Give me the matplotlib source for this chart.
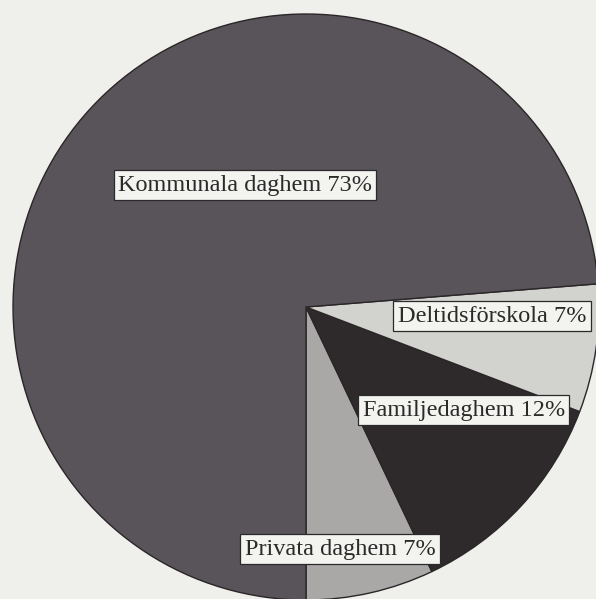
import matplotlib.pyplot as plt

categories = ["Privata daghem", "Familjedaghem", "Deltidsförskola", "Kommunala daghem"]
values = [7, 12, 7, 73]
colors = ["#a9a8a7", "#2e2a2c", "#d2d2cf", "#59545a"]
label_pos = {
    "Kommunala daghem": (-0.208, 0.416),
    "Deltidsförskola": (0.635, -0.031),
    "Familjedaghem": (0.539, -0.352),
    "Privata daghem": (0.116, -0.826),
}

bg = "#efefeb"
fig = plt.figure(figsize=(5.96, 5.99), dpi=100, facecolor=bg)
ax = fig.add_axes([0, 0, 1, 1])
ax.set_facecolor(bg)

ax.pie(values, colors=colors, startangle=-90, counterclock=True,
       radius=1.0, center=(0, 0),
       wedgeprops=dict(edgecolor="#2a2628", linewidth=1.0))

ax.set_xlim(-1.0444, 0.9898)
ax.set_ylim(-0.9966, 1.0478)
ax.set_aspect("auto")
ax.axis("off")

for cat, val in zip(categories, values):
    x, y = label_pos[cat]
    ax.text(x, y, f"{cat} {val}%", ha="center", va="center",
            fontsize=17.5, family="Liberation Serif", color="#2a2a2a",
            bbox=dict(boxstyle="square,pad=0.18", facecolor="#f3f3f0",
                      edgecolor="#2a2a2a", linewidth=0.9))

fig.savefig("out.png", dpi=100, facecolor=bg)
